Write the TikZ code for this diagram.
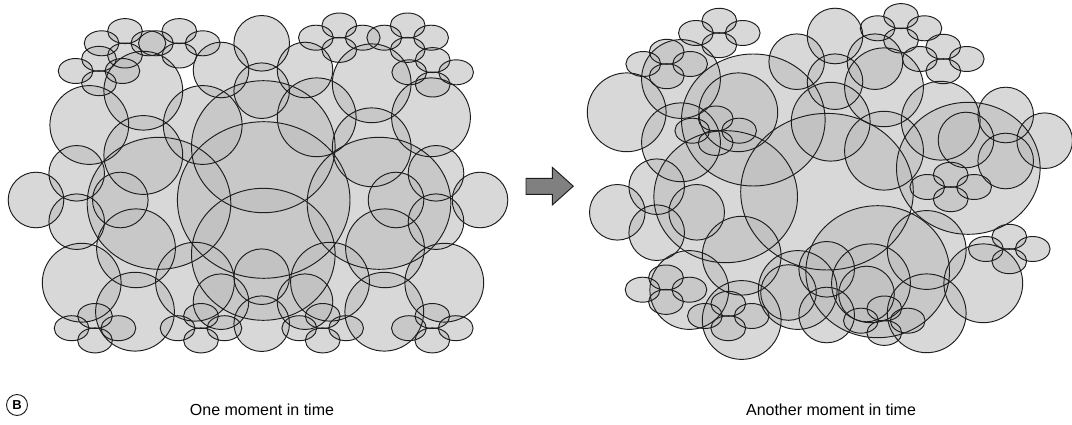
\documentclass[tikz,border=0pt]{standalone}
\usepackage{fontspec}
\setmainfont{Liberation Sans}
\definecolor{cfill}{RGB}{190,190,190}
\definecolor{cline}{RGB}{30,30,30}
\definecolor{arrowfill}{RGB}{128,128,128}
\tikzset{
  disc/.style={fill=cfill, fill opacity=0.6},
  ring/.style={draw=cline, line width=0.95pt},
  caption/.style={font=\fontsize{16}{19}\selectfont, inner sep=0pt},
}
% big ellipses
\def\LBig{263.7/200, 827/191.7}
% level-one ellipses
\def\LOne{263.3/146.7, 263.3/254.3, 159/203.3, 379/203.3,
  753.3/120, 725.7/196.7, 968.3/168.3, 877.7/271.7}
% medium circles
\def\LM{143.3/90.7, 89.3/125, 143.3/155, 202.7/125,
  316.7/117.3, 371.7/83.3, 431/117.3, 371.7/147.3,
  136/248.3, 81.7/282.7, 135/311.7, 195/281.7,
  385/248.3, 444.3/282.7, 384.3/311.7, 330/281.7,
  681/79, 626.7/112.3, 681/142.3, 738.3/112.3,
  830.7/121.7, 884/87.3, 884/150.7, 940.7/120.7,
  926.7/250, 983.3/283.3, 926.7/313.3, 871/283.3,
  741.7/255.7, 689.3/290, 741.7/320, 797.7/290}
% small circles
\def\LS{221/70, 261.7/43.3, 261.7/90.7, 305/70,
  76.7/173.3, 36/200, 76.7/221.7, 120.3/200,
  436/173.3, 480/200, 436/221.7, 396/200,
  221/301.7, 261.7/276.7, 305/301.7, 261.7/323.7,
  796.7/61.7, 835/36, 835/81.7, 875/61.7,
  656.7/186.7, 617.3/212.3, 656.7/232.7, 696.7/212.3,
  1005.7/115, 1044.7/140.7, 1005.7/161, 966/140,
  826.7/269.3, 788.5/292.5, 826.7/315, 866.5/294}
% clusters of four small ellipses
\def\LK{125/43.3, 179.3/43.3, 99/71, 339.3/37.7, 407.7/37.7, 432.7/72.3,
  95/328.2, 201/328.2, 322.7/328.2, 432.3/328.2,
  719.3/33, 666.7/64, 715.7/130.7, 901/28.3, 943.3/59,
  950.7/187, 1009.3/249, 666/289.7, 728.3/316, 884.3/320.7}
\newcommand\allshapes[1]{%
  \foreach \x/\y in \LBig {\path[#1] (\x,\y) ellipse [x radius=86.3, y radius=78.3];}
  \foreach \x/\y in \LOne {\path[#1] (\x,\y) ellipse [x radius=71.8, y radius=66];}
  \foreach \x/\y in \LM {\path[#1] (\x,\y) circle [radius=39.4];}
  \foreach \x/\y in \LS {\path[#1] (\x,\y) circle [radius=27.8];}
  \foreach \x/\y in \LK {
    \path[#1] (\x,\y-12.2) ellipse [x radius=17.4, y radius=12.5];
    \path[#1] (\x-23.4,\y) ellipse [x radius=17.4, y radius=12.5];
    \path[#1] (\x+23.4,\y) ellipse [x radius=17.4, y radius=12.5];
    \path[#1] (\x,\y+12.2) ellipse [x radius=17.4, y radius=12.5];
  }%
}
\begin{document}
\begin{tikzpicture}[x=1pt,y=-1pt]
\useasboundingbox (0,0) rectangle (1072,425);
\fill[white] (0,0) rectangle (1072,425);
\allshapes{disc}
\allshapes{ring}
% arrow between the two moments
\draw[line width=0.95pt, draw=cline, fill=arrowfill, line join=miter]
  (526,178.3) -- (552.3,178.3) -- (552.3,167.3) -- (573.3,186.2)
  -- (552.3,205) -- (552.3,194.3) -- (526,194.3) -- cycle;
% labels
\node[draw=cline, line width=0.95pt, circle, minimum size=21pt, inner sep=0pt,
  font=\bfseries\fontsize{13}{15}\selectfont] (tagB) at (17,405) {B};
\node[caption] (cap1) at (262,410) {One moment in time};
\node[caption] (cap2) at (831,410) {Another moment in time};
\end{tikzpicture}
\end{document}
